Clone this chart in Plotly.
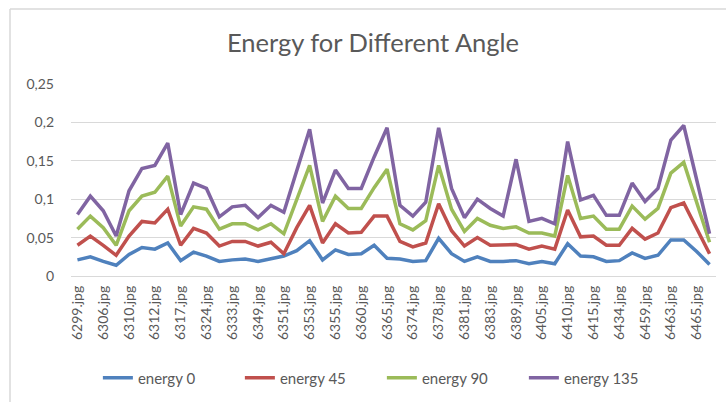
import plotly.graph_objects as go

# Image files along the x axis (every second file is labelled)
tick_labels = [
    "6299.jpg", "6306.jpg", "6310.jpg", "6312.jpg", "6317.jpg",
    "6324.jpg", "6333.jpg", "6349.jpg", "6351.jpg", "6353.jpg",
    "6355.jpg", "6360.jpg", "6365.jpg", "6374.jpg", "6378.jpg",
    "6381.jpg", "6383.jpg", "6389.jpg", "6405.jpg", "6410.jpg",
    "6415.jpg", "6434.jpg", "6459.jpg", "6463.jpg", "6465.jpg",
]
n_images = 50
label_step = 2

energy_0 = [
    0.021, 0.025, 0.019, 0.014, 0.028, 0.037, 0.035, 0.043, 0.020, 0.031,
    0.026, 0.019, 0.021, 0.022, 0.019, 0.023, 0.026, 0.033, 0.046, 0.021,
    0.034, 0.028, 0.029, 0.040, 0.023, 0.022, 0.019, 0.020, 0.049, 0.029,
    0.019, 0.025, 0.019, 0.019, 0.020, 0.016, 0.019, 0.016, 0.042, 0.026,
    0.025, 0.019, 0.020, 0.030, 0.023, 0.027, 0.047, 0.047, 0.032, 0.015,
]
energy_45 = [
    0.040, 0.052, 0.040, 0.027, 0.052, 0.071, 0.069, 0.087, 0.040, 0.062,
    0.056, 0.039, 0.045, 0.045, 0.039, 0.044, 0.029, 0.063, 0.092, 0.043,
    0.068, 0.056, 0.057, 0.078, 0.078, 0.045, 0.038, 0.043, 0.094, 0.059,
    0.039, 0.050, 0.040, 0.040, 0.041, 0.035, 0.039, 0.035, 0.086, 0.051,
    0.052, 0.040, 0.040, 0.062, 0.048, 0.056, 0.089, 0.095, 0.061, 0.029,
]
energy_90 = [
    0.061, 0.078, 0.063, 0.040, 0.085, 0.104, 0.109, 0.130, 0.065, 0.090,
    0.087, 0.061, 0.068, 0.068, 0.060, 0.068, 0.055, 0.099, 0.144, 0.071,
    0.104, 0.088, 0.088, 0.115, 0.139, 0.068, 0.060, 0.072, 0.144, 0.087,
    0.058, 0.075, 0.066, 0.062, 0.064, 0.056, 0.056, 0.052, 0.131, 0.075,
    0.078, 0.061, 0.061, 0.091, 0.074, 0.088, 0.134, 0.148, 0.095, 0.044,
]
energy_135 = [
    0.080, 0.104, 0.085, 0.052, 0.111, 0.140, 0.144, 0.173, 0.080, 0.121,
    0.114, 0.077, 0.090, 0.092, 0.076, 0.092, 0.083, 0.137, 0.191, 0.095,
    0.138, 0.114, 0.114, 0.155, 0.193, 0.092, 0.078, 0.096, 0.193, 0.114,
    0.076, 0.100, 0.088, 0.078, 0.152, 0.071, 0.075, 0.068, 0.175, 0.099,
    0.105, 0.079, 0.079, 0.121, 0.097, 0.114, 0.177, 0.196, 0.126, 0.055,
]

series_names = ["energy 0", "energy 45", "energy 90", "energy 135"]
series_values = [energy_0, energy_45, energy_90, energy_135]
series_colors = ["#4F81BD", "#C0504D", "#9BBB59", "#8064A2"]

x_pos = list(range(n_images))
tick_pos = list(range(0, n_images, label_step))

TEXT = "#595959"
GRID = "#D9D9D9"
FONT = "Lato"

fig = go.Figure()
for name, vals, col in zip(series_names, series_values, series_colors):
    fig.add_trace(go.Scatter(
        x=x_pos, y=vals, name=name, mode="lines",
        line=dict(color=col, width=3.5),
    ))

W, H = 726, 402
ml, mr, mt, mb = 71, 10, 84, 126
pw, ph = W - ml - mr, H - mt - mb


def px_to_paper_x(px):
    return (px - ml) / pw


def px_to_paper_y(py):
    return (H - mb - py) / ph


# chart-area border (top and left edges)
border_top = 9
border_left = 10
fig.add_shape(type="line", xref="paper", yref="paper",
              x0=px_to_paper_x(border_left), x1=px_to_paper_x(W + 5),
              y0=px_to_paper_y(border_top), y1=px_to_paper_y(border_top),
              line=dict(color=GRID, width=1.5))
fig.add_shape(type="line", xref="paper", yref="paper",
              x0=px_to_paper_x(border_left), x1=px_to_paper_x(border_left),
              y0=px_to_paper_y(border_top), y1=px_to_paper_y(H + 5),
              line=dict(color=GRID, width=1.5))

fig.update_layout(
    width=W, height=H,
    margin=dict(l=ml, r=mr, t=mt, b=mb, pad=0),
    paper_bgcolor="white", plot_bgcolor="white",
    separators=", ",
    font=dict(family=FONT, color=TEXT, size=13),
    title=dict(
        text="Energy for Different Angle",
        x=373 / W, xanchor="center", xref="container",
        y=1 - 43 / H, yanchor="middle", yref="container",
        font=dict(family=FONT, size=25.5, color=TEXT),
    ),
    showlegend=True,
    legend=dict(
        orientation="h", x=0.526, xanchor="center", xref="container",
        y=1 - 378 / H, yanchor="middle", yref="container",
        font=dict(family=FONT, size=15, color=TEXT),
        entrywidth=97, entrywidthmode="pixels",
        bgcolor="rgba(0,0,0,0)",
    ),
    xaxis=dict(
        range=[-0.5, n_images - 0.5],
        tickmode="array", tickvals=tick_pos, ticktext=tick_labels,
        tickangle=-90, showgrid=False, zeroline=False,
        showline=False, ticks="", ticklabelstandoff=6,
        tickfont=dict(family=FONT, size=14, color=TEXT),
    ),
    yaxis=dict(
        range=[0, 0.25], dtick=0.05, tick0=0,
        showgrid=True, gridcolor=GRID, gridwidth=1,
        zeroline=True, zerolinecolor=GRID, zerolinewidth=1,
        showline=False, ticks="", ticklabelstandoff=16,
        tickfont=dict(family=FONT, size=14, color=TEXT),
    ),
)

fig.write_html("out.html")
